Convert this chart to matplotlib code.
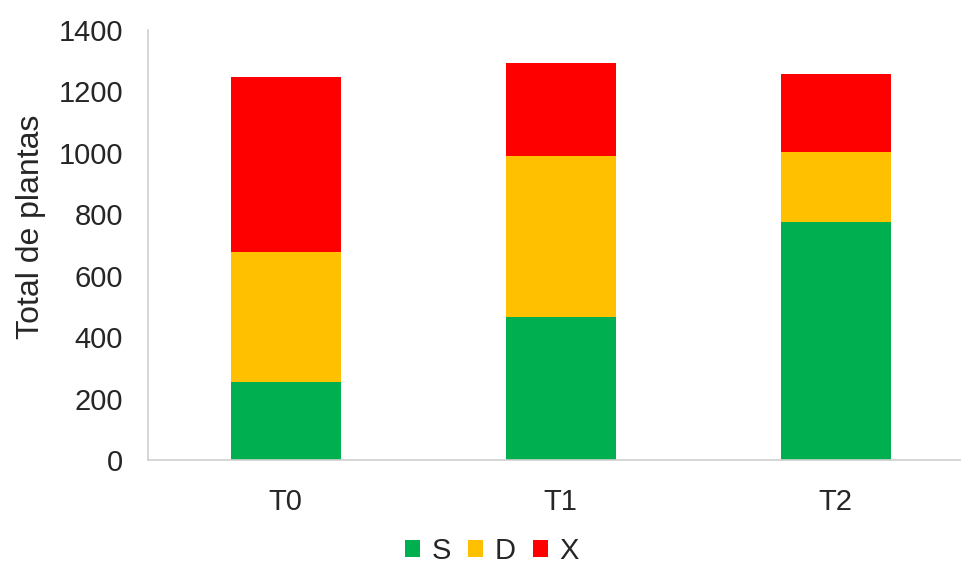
import numpy as np
import matplotlib.pyplot as plt

plt.rcParams['font.family'] = ['Liberation Sans', 'DejaVu Sans']

# Valores
tratamientos = ['T0', 'T1', 'T2']
S = [255, 466, 774]
D = [422, 524, 228]
X = [571, 304, 254]

colores = {'S': '#00B050', 'D': '#FFC000', 'X': '#FF0000'}

fig = plt.figure(figsize=(9.61, 5.63), dpi=100)
ax = fig.add_axes([148 / 961, 1 - 460 / 563, 825 / 961, 430 / 563])

x = np.arange(len(tratamientos))
ancho = 0.4
base = np.zeros(len(tratamientos))
for nombre, vals in [('S', S), ('D', D), ('X', X)]:
    ax.bar(x, vals, ancho, bottom=base, color=colores[nombre], label=nombre)
    base += np.array(vals)

ax.set_xlim(-0.5, 2.5)
ax.set_ylim(0, 1400)
ax.set_yticks(np.arange(0, 1401, 200))
ax.set_xticks(x)
ax.set_xticklabels(tratamientos)
ax.tick_params(length=0, labelsize=21, colors='#262626')
ax.tick_params(axis='x', pad=20)
ax.tick_params(axis='y', pad=18)
ax.set_ylabel('Total de plantas', fontsize=23, color='#262626')
ax.yaxis.set_label_coords(-0.124, 0.542)

for s in ['top', 'right']:
    ax.spines[s].set_visible(False)
for s in ['left', 'bottom']:
    ax.spines[s].set_color('#D0D0D0')
    ax.spines[s].set_linewidth(1.2)

fig.legend(loc='lower center', bbox_to_anchor=(0.512, -0.05), ncol=3, frameon=False,
           fontsize=21, handlelength=0.5, handleheight=0.5, handletextpad=0.4,
           columnspacing=0.6, labelcolor='#262626')

fig.savefig('out.png', dpi=100)
